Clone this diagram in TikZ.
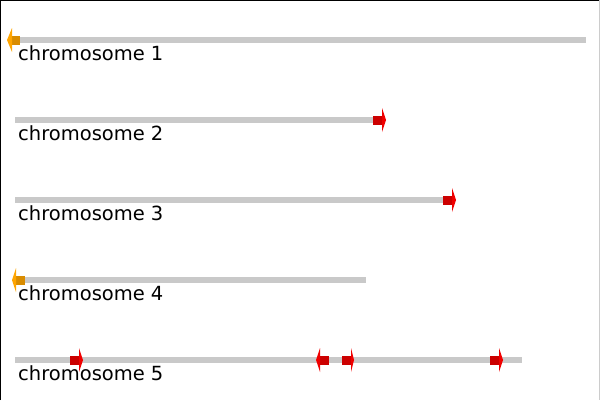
\documentclass[tikz,border=0pt]{standalone}
\usepackage{fontspec}
\setmainfont{DejaVu Sans}
\usepackage{tikz}

\definecolor{geneorange}{HTML}{FFA500}
\definecolor{genered}{HTML}{F00000}

% gene marks: box from #1 to #2, head from #2 to #3, on the line at height #4
\newcommand{\genemark}[5]{%
    \fill[#5!85!black] (#1,#4-4.5) rectangle (#2,#4+4.5);
    \fill[#5] (#2,#4-12) -- (#3,#4) -- (#2,#4+12) -- cycle;
}

\tikzset{
    chromline/.style={line width=6pt, draw=black!21},
    chromlabel/.style={anchor=base west, inner sep=0pt, font=\fontsize{19.5}{22}\selectfont},
}

\begin{document}
\begin{tikzpicture}[x=1pt,y=-1pt]
    \useasboundingbox (0,0) rectangle (600,400);
    \draw[black, line width=1pt] (0.5,400) -- (0.5,0.5) -- (600,0.5);
    \draw[black!20, line width=1pt] (599.5,0) -- (599.5,400);

    % chromosomes
    \foreach \n/\y/\len in {1/40/586, 2/120/380, 3/200/450, 4/280/366, 5/360/522} {
        \draw[chromline] (15,\y) -- (\len,\y);
        \node[chromlabel] (chr\n) at (18,\y+20) {chromosome \n};
    }

    % genes on the forward strand
    \genemark{373}{382}{386}{120}{genered}
    \genemark{443}{452}{456}{200}{genered}
    \genemark{70}{79}{83}{360}{genered}
    \genemark{342}{351}{354}{360}{genered}
    \genemark{490}{499}{503}{360}{genered}

    % genes on the reverse strand
    \genemark{20}{12}{7}{40}{geneorange}
    \genemark{25}{16}{12}{280}{geneorange}
    \genemark{329}{320}{316}{360}{genered}
\end{tikzpicture}
\end{document}
